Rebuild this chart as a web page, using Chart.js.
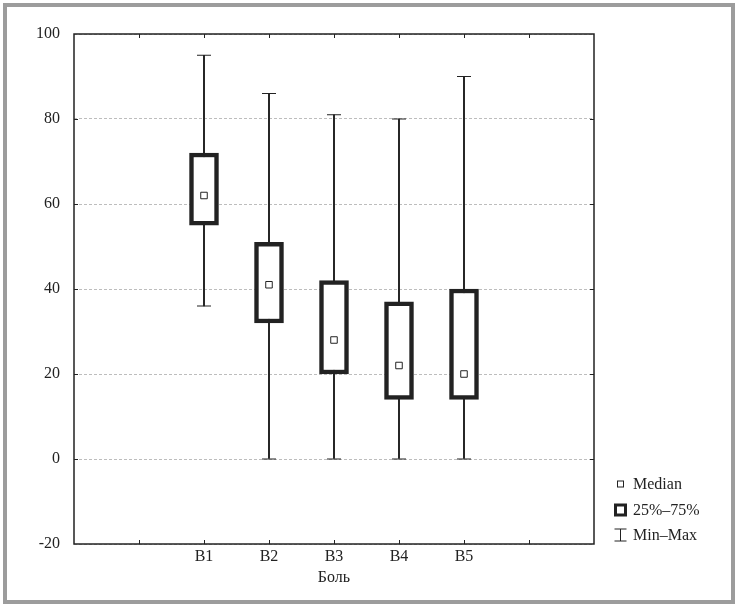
<!DOCTYPE html>
<html>
<head>
<meta charset="utf-8">
<script src="https://cdn.jsdelivr.net/npm/chart.js@4.4.1/dist/chart.umd.min.js"></script>
<style>
  html, body { margin: 0; padding: 0; background: #fff; }
  #wrap { position: relative; width: 740px; height: 608px; }
  #frame { position: absolute; left: 3px; top: 3px; width: 732px; height: 601px; box-sizing: border-box; border: 4px solid #9c9c9c; pointer-events: none; }
  canvas { position: absolute; left: 0; top: 0; }
</style>
</head>
<body>
<div id="wrap">
  <canvas id="boxChart" width="740" height="608"></canvas>
  <div id="frame"></div>
</div>
<script>
const categories = ['B1', 'B2', 'B3', 'B4', 'B5'];
const minVals    = [36, 0, 0, 0, 0];
const q1Vals     = [55, 32, 20, 14, 14];
const medianVals = [62, 41, 28, 22, 20];
const q3Vals     = [72, 51, 42, 37, 40];
const maxVals    = [95, 86, 81, 80, 90];
const yTicks     = [-20, 0, 20, 40, 60, 80, 100];
const xTitle     = 'Боль';
const legendLabels = ['Median', '25%–75%', 'Min–Max'];

const INK = '#222';
const FONT = 'Liberation Serif, Times New Roman, serif';

// two empty slots on each side, like the original plot
const pad = arr => [null, null, ...arr, null, null];
const labels = pad(categories).map(v => v === null ? '' : v);

const whiskerData = pad(categories.map((c, i) => [minVals[i], maxVals[i]]));
const boxData = pad(categories.map((c, i) => [q1Vals[i], q3Vals[i]]));

const frameAndLegend = {
  id: 'frameAndLegend',
  afterDraw(chart) {
    const ctx = chart.ctx;
    const a = chart.chartArea;
    const x = chart.scales.x, y = chart.scales.y;
    ctx.save();
    ctx.strokeStyle = INK;
    ctx.lineWidth = 1.5;
    ctx.strokeRect(a.left, a.top, a.right - a.left, a.bottom - a.top);

    // inner tick marks
    ctx.lineWidth = 1;
    ctx.beginPath();
    for (let i = 1; i < labels.length - 1; i++) {
      const px = Math.round(x.getPixelForTick(i)) + 0.5;
      ctx.moveTo(px, a.top); ctx.lineTo(px, a.top + 4);
      ctx.moveTo(px, a.bottom); ctx.lineTo(px, a.bottom - 4);
    }
    yTicks.slice(1, -1).forEach(v => {
      const py = Math.round(y.getPixelForValue(v)) + 0.5;
      ctx.moveTo(a.left, py); ctx.lineTo(a.left + 4, py);
      ctx.moveTo(a.right, py); ctx.lineTo(a.right - 4, py);
    });
    ctx.stroke();

    // legend
    const lx = 620.5;
    const rows = [484, 510, 535];
    ctx.fillStyle = '#fff';
    ctx.strokeStyle = INK;
    ctx.lineWidth = 1;
    ctx.fillRect(lx - 3, rows[0] - 3, 6, 6);
    ctx.strokeRect(lx - 3, rows[0] - 3, 6, 6);
    ctx.lineWidth = 3;
    ctx.strokeRect(lx - 5, rows[1] - 5, 10, 10);
    ctx.lineWidth = 1;
    ctx.beginPath();
    ctx.moveTo(lx, rows[2] - 6); ctx.lineTo(lx, rows[2] + 6);
    ctx.moveTo(lx - 6, rows[2] - 6); ctx.lineTo(lx + 6, rows[2] - 6);
    ctx.moveTo(lx - 6, rows[2] + 6); ctx.lineTo(lx + 6, rows[2] + 6);
    ctx.stroke();
    ctx.fillStyle = INK;
    ctx.font = '16px ' + FONT;
    ctx.textBaseline = 'middle';
    ctx.textAlign = 'left';
    legendLabels.forEach((t, i) => ctx.fillText(t, 633, rows[i] + 1));
    ctx.restore();
  }
};

new Chart(document.getElementById('boxChart'), {
  type: 'bar',
  data: {
    labels: labels,
    datasets: [
      {
        label: 'Median',
        type: 'line',
        data: pad(medianVals),
        showLine: false,
        pointStyle: 'rect',
        pointRadius: 4.6,
        pointBackgroundColor: '#fff',
        pointBorderColor: INK,
        pointBorderWidth: 1,
        order: 0
      },
      {
        label: 'Max',
        type: 'line',
        data: pad(maxVals),
        showLine: false,
        pointStyle: 'line',
        pointRadius: 7,
        pointBorderColor: INK,
        pointBorderWidth: 1.2,
        order: 3
      },
      {
        label: 'Min',
        type: 'line',
        data: pad(minVals),
        showLine: false,
        pointStyle: 'line',
        pointRadius: 7,
        pointBorderColor: INK,
        pointBorderWidth: 1.2,
        order: 3
      },
      {
        label: '25%–75%',
        data: boxData,
        backgroundColor: '#fff',
        borderColor: INK,
        borderWidth: 4.5,
        borderSkipped: false,
        barThickness: 29,
        grouped: false,
        order: 1
      },
      {
        label: 'Min–Max',
        data: whiskerData,
        backgroundColor: INK,
        borderWidth: 0,
        barThickness: 1.3,
        grouped: false,
        order: 2
      }
    ]
  },
  options: {
    responsive: false,
    animation: false,
    layout: { padding: { left: 0, top: 34, right: 146, bottom: 0 } },
    plugins: {
      legend: { display: false },
      tooltip: { enabled: false }
    },
    scales: {
      x: {
        offset: false,
        grid: { display: false, drawTicks: false },
        border: { display: false },
        ticks: { color: INK, font: { family: FONT, size: 16 }, padding: 3, autoSkip: false, maxRotation: 0 },
        title: { display: true, text: xTitle, color: INK, font: { family: FONT, size: 16 }, padding: { top: 0, bottom: 21 } },
        afterFit: s => { s.height = 64; }
      },
      y: {
        min: -20,
        max: 100,
        afterBuildTicks: s => { s.ticks = yTicks.map(v => ({ value: v })); },
        grid: { color: '#bdbdbd', lineWidth: 1, drawTicks: false },
        border: { display: false, dash: [3, 2] },
        ticks: { color: INK, font: { family: FONT, size: 16 }, padding: 14 },
        afterFit: s => { s.width = 74; }
      }
    }
  },
  plugins: [frameAndLegend]
});
</script>
</body>
</html>
